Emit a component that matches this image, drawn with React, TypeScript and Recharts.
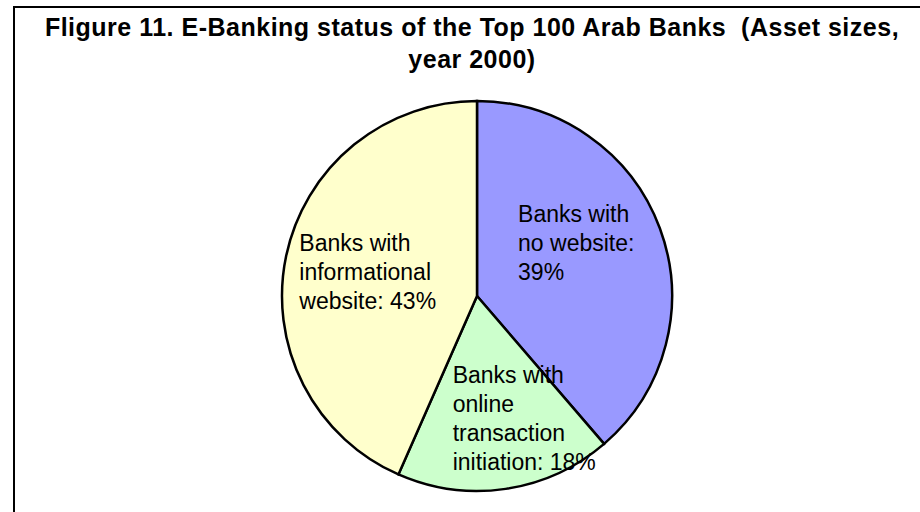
import { PieChart, Pie, Cell } from "recharts";

const categories = [
  "Banks with no website",
  "Banks with online transaction initiation",
  "Banks with informational website",
];
const shares = [38.7, 17.9, 43.4];
const colors = ["#9999FF", "#CCFFCC", "#FFFFCC"];

const data = categories.map((name, i) => ({ name, value: shares[i] }));

// label layout (wrap width in chars, nudge from slice anchor point)
const wrapAt = [12, 15, 13];
const nudge = [
  { dx: -65, dy: -35 },
  { dx: -41, dy: -25 },
  { dx: -67, dy: -22 },
];

const FONT = "'Liberation Sans', Arial, sans-serif";
const RAD = Math.PI / 180;

function wrap(text: string, max: number) {
  const words = text.split(" ");
  const lines: string[] = [];
  let cur = "";
  for (const w of words) {
    const next = cur ? cur + " " + w : w;
    if (next.length > max && cur) {
      lines.push(cur);
      cur = w;
    } else {
      cur = next;
    }
  }
  if (cur) lines.push(cur);
  return lines;
}

function renderLabel(props: any) {
  const { cx, cy, midAngle, outerRadius, index, name, value } = props;
  const r = outerRadius * 0.58;
  const x = cx + r * Math.cos(-midAngle * RAD) + nudge[index].dx;
  const y = cy + r * Math.sin(-midAngle * RAD) + nudge[index].dy;
  const lines = wrap(`${name}: ${Math.round(value)}%`, wrapAt[index]);
  return (
    <text x={x} y={y} fill="#000" fontSize={23} fontFamily={FONT} textAnchor="start">
      {lines.map((l, k) => (
        <tspan key={k} x={x} y={y + k * 29}>
          {l}
        </tspan>
      ))}
    </text>
  );
}

export default function App() {
  return (
    <div style={{ position: "absolute", left: 0, top: 0, width: 920, height: 512, overflow: "hidden", background: "#fff" }}>
      <div
        style={{
          position: "absolute",
          left: 13,
          top: 6,
          width: 940,
          height: 540,
          border: "2px solid #000",
          boxShadow: "1px 1px 0 #bbb",
        }}
      />
      <div
        style={{
          position: "absolute",
          left: 13,
          top: 11,
          width: 918,
          textAlign: "center",
          fontFamily: FONT,
          fontWeight: "bold",
          fontSize: 25,
          letterSpacing: 0.5,
          lineHeight: "32px",
          color: "#000",
        }}
      >
        Fligure 11. E-Banking status of the Top 100 Arab Banks&nbsp; (Asset sizes,
        <br />
        year 2000)
      </div>
      <div style={{ position: "absolute", left: 0, top: 0 }}>
        <PieChart width={920} height={512} margin={{ top: 0, right: 0, bottom: 0, left: 0 }}>
          <Pie
            data={data}
            dataKey="value"
            nameKey="name"
            cx={477}
            cy={296}
            outerRadius={195}
            startAngle={90}
            endAngle={-270}
            stroke="#000"
            strokeWidth={2.5}
            label={renderLabel}
            labelLine={false}
            isAnimationActive={false}
          >
            {data.map((d, i) => (
              <Cell key={d.name} fill={colors[i]} />
            ))}
          </Pie>
        </PieChart>
      </div>
    </div>
  );
}
